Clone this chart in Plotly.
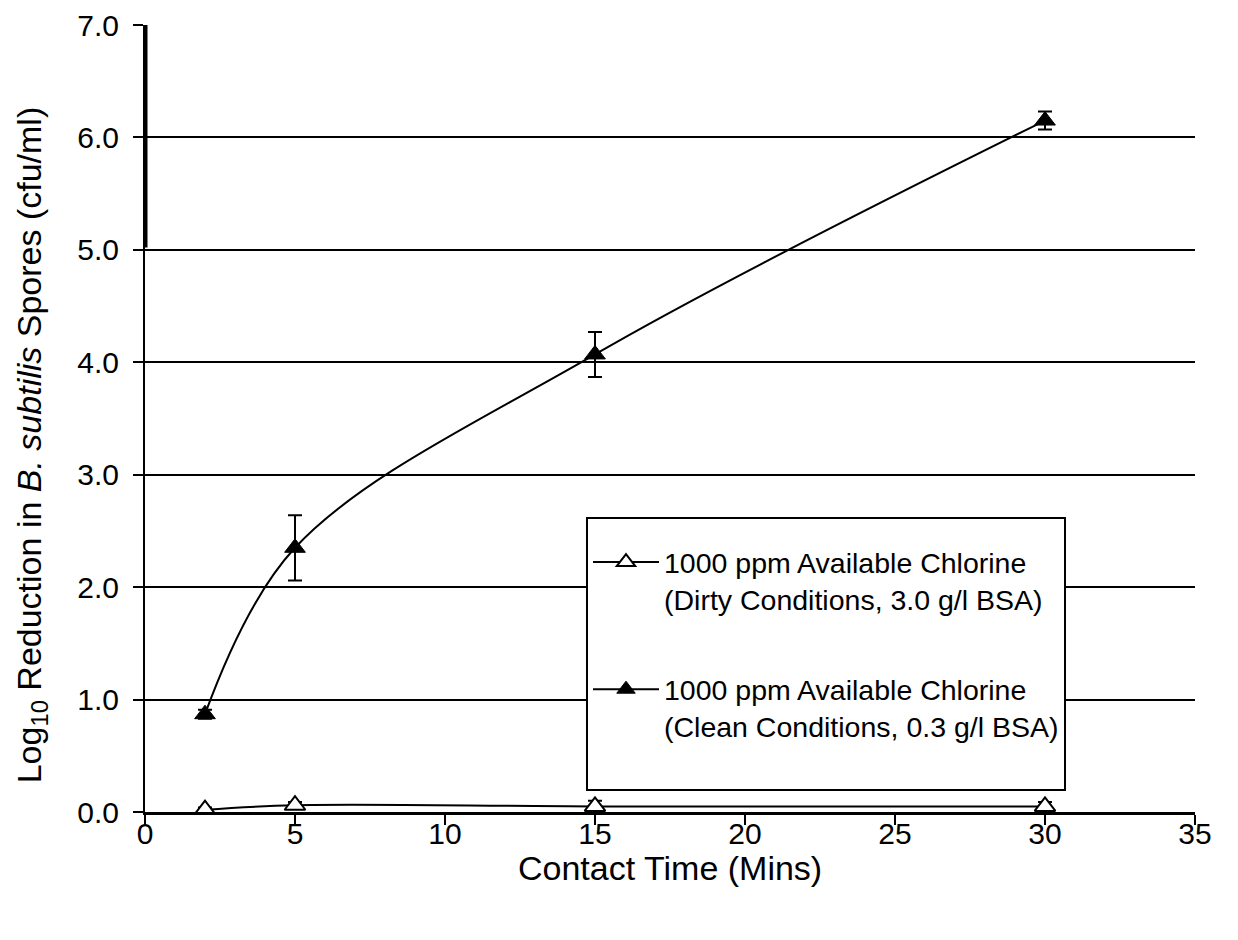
import plotly.graph_objects as go

contact_time = [2, 5, 15, 30]

dirty_name = "1000 ppm Available Chlorine<br>(Dirty Conditions, 3.0 g/l BSA)"
dirty_values = [0.02, 0.06, 0.05, 0.05]
dirty_errors = [0.02, 0.03, 0.05, 0.04]

clean_name = "1000 ppm Available Chlorine<br>(Clean Conditions, 0.3 g/l BSA)<br> "
clean_values = [0.87, 2.35, 4.07, 6.15]
clean_errors = [0.04, 0.29, 0.2, 0.08]

# thick artefact segment along the y axis in the original
artefact_x = [0, 0]
artefact_y = [5.02, 7.3]

x_ticks = [0, 5, 10, 15, 20, 25, 30, 35]
y_ticks = [0, 1, 2, 3, 4, 5, 6, 7]

y_title = "Log<sub>10</sub> Reduction in <i>B. subtilis</i> Spores (cfu/ml)"
x_title = "Contact Time (Mins)"

font_family = "Liberation Sans, Arial, sans-serif"

fig = go.Figure()

fig.add_trace(go.Scatter(
    x=artefact_x, y=artefact_y, mode="lines",
    line=dict(color="black", width=5), showlegend=False, hoverinfo="skip",
))

fig.add_trace(go.Scatter(
    x=contact_time, y=dirty_values, name=dirty_name, legendgroup="d",
    mode="lines+markers",
    line=dict(color="black", width=2, shape="spline", smoothing=1.0),
    marker=dict(symbol="triangle-up", size=18, color="white",
                line=dict(color="black", width=2)),
    error_y=dict(type="data", array=dirty_errors, visible=True,
                 color="black", thickness=2, width=7),
))

fig.add_trace(go.Scatter(
    x=contact_time, y=clean_values, name=clean_name, legendgroup="c",
    mode="lines+markers",
    line=dict(color="black", width=2, shape="spline", smoothing=1.0),
    marker=dict(symbol="triangle-up", size=18, color="black",
                line=dict(color="black", width=1)),
    error_y=dict(type="data", array=clean_errors, visible=True,
                 color="black", thickness=2, width=7),
))

fig.add_annotation(
    text=y_title, textangle=-90, showarrow=False,
    xref="paper", yref="paper", x=-0.1085, y=0.466,
    xanchor="center", yanchor="middle",
    font=dict(size=34, family=font_family, color="black"),
)

fig.add_annotation(
    text=x_title, showarrow=False,
    xref="paper", yref="paper", x=0.5, y=-0.0715,
    xanchor="center", yanchor="middle",
    font=dict(size=34, family=font_family, color="black"),
)

fig.update_layout(
    width=1238, height=940,
    margin=dict(l=137, r=51, t=17, b=136),
    plot_bgcolor="white", paper_bgcolor="white",
    font=dict(family=font_family, size=30, color="black"),
    showlegend=True,
    legend=dict(
        x=0.42, y=0.375, xanchor="left", yanchor="top",
        bgcolor="white", bordercolor="black", borderwidth=2,
        font=dict(size=28.5, family=font_family),
        tracegroupgap=50, itemwidth=66, valign="top",
        title=dict(text=" ", font=dict(size=14)),
    ),
    xaxis=dict(
        range=[0, 35], tickvals=x_ticks, ticktext=[str(v) for v in x_ticks],
        showgrid=False, zeroline=False, automargin=False,
        showline=True, linecolor="black", linewidth=3,
        ticks="outside", ticklen=10, tickwidth=2, tickcolor="black",
        ticklabelstandoff=-17,
        tickfont=dict(size=30),
    ),
    yaxis=dict(
        range=[0, 7], tickvals=y_ticks, ticktext=[f"{v:.1f}" for v in y_ticks],
        showgrid=True, gridcolor="black", gridwidth=2,
        zeroline=False, automargin=False,
        showline=True, linecolor="black", linewidth=2,
        ticks="outside", ticklen=10, tickwidth=2, tickcolor="black",
        ticklabelstandoff=8,
        tickfont=dict(size=30),
    ),
)

fig.write_html("out.html")
